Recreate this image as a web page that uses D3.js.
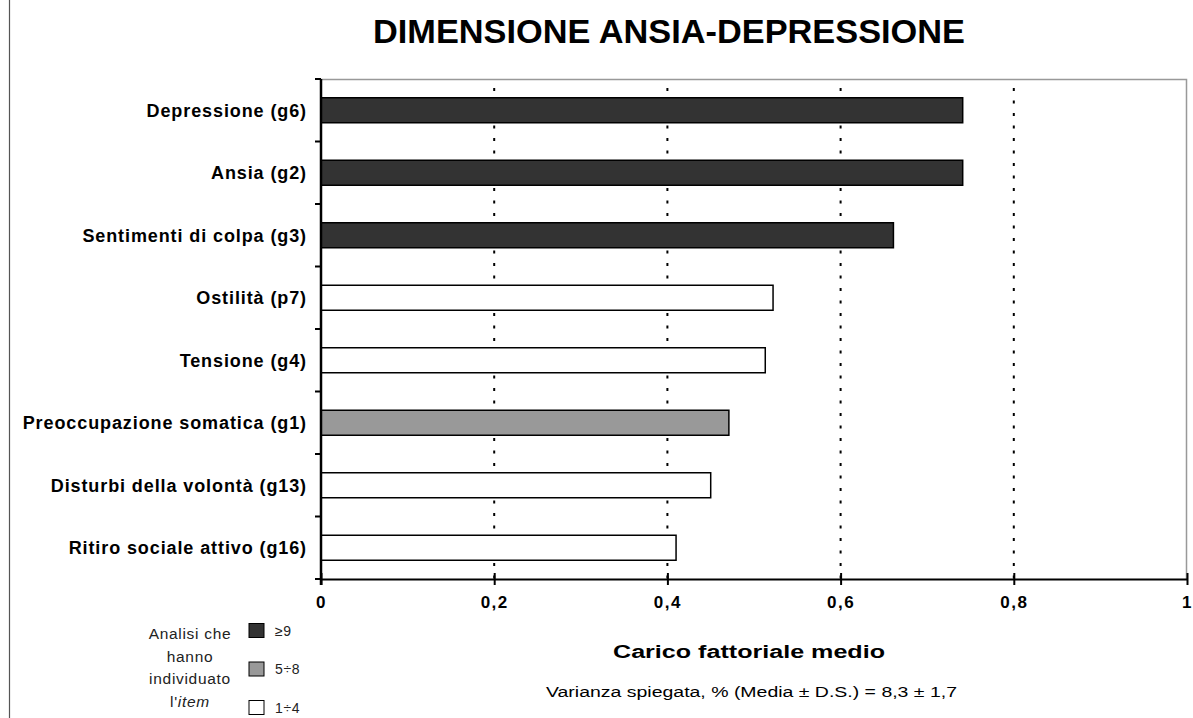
<!DOCTYPE html>
<html>
<head>
<meta charset="utf-8">
<script src="https://cdn.jsdelivr.net/npm/d3@7"></script>
<style>
  body { margin: 0; background: #fff; }
  svg { display: block; font-family: "Liberation Sans", Arial, sans-serif; }
</style>
</head>
<body>
<svg id="chart" width="1193" height="718"></svg>
<script>
// dati
const categories = [
  'Depressione (g6)', 'Ansia (g2)', 'Sentimenti di colpa (g3)', 'Ostilità (p7)',
  'Tensione (g4)', 'Preoccupazione somatica (g1)', 'Disturbi della volontà (g13)',
  'Ritiro sociale attivo (g16)'
];
const loadings = [0.741, 0.741, 0.661, 0.522, 0.513, 0.471, 0.45, 0.41];
const groups = ['≥9', '≥9', '≥9', '1÷4', '1÷4', '5÷8', '1÷4', '1÷4'];
const legendKeys = ['≥9', '5÷8', '1÷4'];
const xTicks = [0, 0.2, 0.4, 0.6, 0.8, 1];

const svg = d3.select('#chart');
const margin = {top: 79, right: 6, bottom: 139, left: 321};
const width = 1193 - margin.left - margin.right;
const height = 718 - margin.top - margin.bottom;

const color = d3.scaleOrdinal().domain(legendKeys).range(['#333333', '#999999', '#ffffff']);
const x = d3.scaleLinear().domain([0, 1]).range([0, width]);
const y = d3.scaleBand().domain(categories).range([0, height]).paddingInner(0.6).paddingOuter(0.3);

// bordo sinistro della pagina
svg.append('line').attr('x1', 9.5).attr('x2', 9.5).attr('y1', 0).attr('y2', 718)
  .attr('stroke', '#555').attr('stroke-width', 1.2);

svg.append('text').attr('x', 373).attr('y', 43)
  .attr('font-size', 33).attr('font-weight', 'bold')
  .attr('textLength', 592).attr('lengthAdjust', 'spacingAndGlyphs')
  .text('DIMENSIONE ANSIA-DEPRESSIONE');

const g = svg.append('g').attr('transform', `translate(${margin.left},${margin.top})`);

// cornice grigia (alto e destra)
g.append('path').attr('d', `M0,0.5H${width - 0.5}V${height}`)
  .attr('fill', 'none').attr('stroke', '#999').attr('stroke-width', 1.5);

// griglia tratteggiata
g.selectAll('.grid').data(xTicks.slice(1, -1)).join('line')
  .attr('class', 'grid')
  .attr('x1', d => x(d)).attr('x2', d => x(d)).attr('y1', 9).attr('y2', height)
  .attr('stroke', '#000').attr('stroke-width', 2).attr('stroke-dasharray', '3,9.5');

g.selectAll('.bar').data(categories).join('rect')
  .attr('class', 'bar')
  .attr('x', 0)
  .attr('y', d => y(d))
  .attr('width', (d, i) => x(loadings[i]))
  .attr('height', y.bandwidth())
  .attr('fill', (d, i) => color(groups[i]))
  .attr('stroke', '#000').attr('stroke-width', 1.5);

// asse x
const xAxis = d3.axisBottom(x).tickValues(xTicks).tickSize(0)
  .tickFormat(d => d3.format('.1~f')(d).replace('.', ','));
const xg = g.append('g').attr('transform', `translate(0,${height})`).call(xAxis);
xg.select('.domain').attr('stroke', '#000').attr('stroke-width', 2);
xg.selectAll('.tick').append('line').attr('y1', -6).attr('y2', 6).attr('stroke', '#000').attr('stroke-width', 2);
xg.selectAll('.tick text').attr('dy', 0).attr('y', 29).attr('font-size', 17).attr('font-weight', 'bold')
  .attr('letter-spacing', 1.5).attr('fill', '#000');

// asse y
const boundaries = d3.range(categories.length + 1).map(i => i * height / categories.length);
g.append('line').attr('x1', 0).attr('x2', 0).attr('y1', 0).attr('y2', height + 6)
  .attr('stroke', '#000').attr('stroke-width', 2.5);
g.selectAll('.ytick').data(boundaries).join('line')
  .attr('class', 'ytick').attr('x1', -6).attr('x2', 0).attr('y1', d => d).attr('y2', d => d)
  .attr('stroke', '#000').attr('stroke-width', 2);
g.selectAll('.ylabel').data(categories).join('text')
  .attr('class', 'ylabel')
  .attr('x', -14).attr('y', d => y(d) + y.bandwidth() / 2).attr('dy', '0.36em')
  .attr('text-anchor', 'end').attr('font-size', 18).attr('font-weight', 'bold')
  .attr('letter-spacing', 0.9).text(d => d);

svg.append('text').attr('x', 613).attr('y', 658)
  .attr('font-size', 17.5).attr('font-weight', 'bold')
  .attr('textLength', 272).attr('lengthAdjust', 'spacingAndGlyphs')
  .text('Carico fattoriale medio');
svg.append('text').attr('x', 546).attr('y', 697)
  .attr('font-size', 15.5)
  .attr('textLength', 411).attr('lengthAdjust', 'spacingAndGlyphs')
  .text('Varianza spiegata, % (Media ± D.S.) = 8,3 ± 1,7');

// legenda
const legendTitle = svg.append('text').attr('text-anchor', 'middle').attr('font-size', 15.5)
  .attr('letter-spacing', 0.7).attr('fill', '#222');
['Analisi che', 'hanno', 'individuato'].forEach((t, i) => {
  legendTitle.append('tspan').attr('x', 190).attr('y', 639 + i * 22.6).text(t);
});
const last = legendTitle.append('tspan').attr('x', 190).attr('y', 706.8);
last.append('tspan').text("l'");
last.append('tspan').attr('font-style', 'italic').text('item');

const lg = svg.selectAll('.leg').data(legendKeys).join('g')
  .attr('class', 'leg').attr('transform', (d, i) => `translate(249,${623.5 + i * 38.5})`);
lg.append('rect').attr('width', 15).attr('height', 14).attr('fill', d => color(d))
  .attr('stroke', '#000').attr('stroke-width', 1);
lg.append('text').attr('x', 26).attr('y', 12).attr('font-size', 14).attr('letter-spacing', 0.6)
  .attr('fill', '#222').text(d => d);
</script>
</body>
</html>
